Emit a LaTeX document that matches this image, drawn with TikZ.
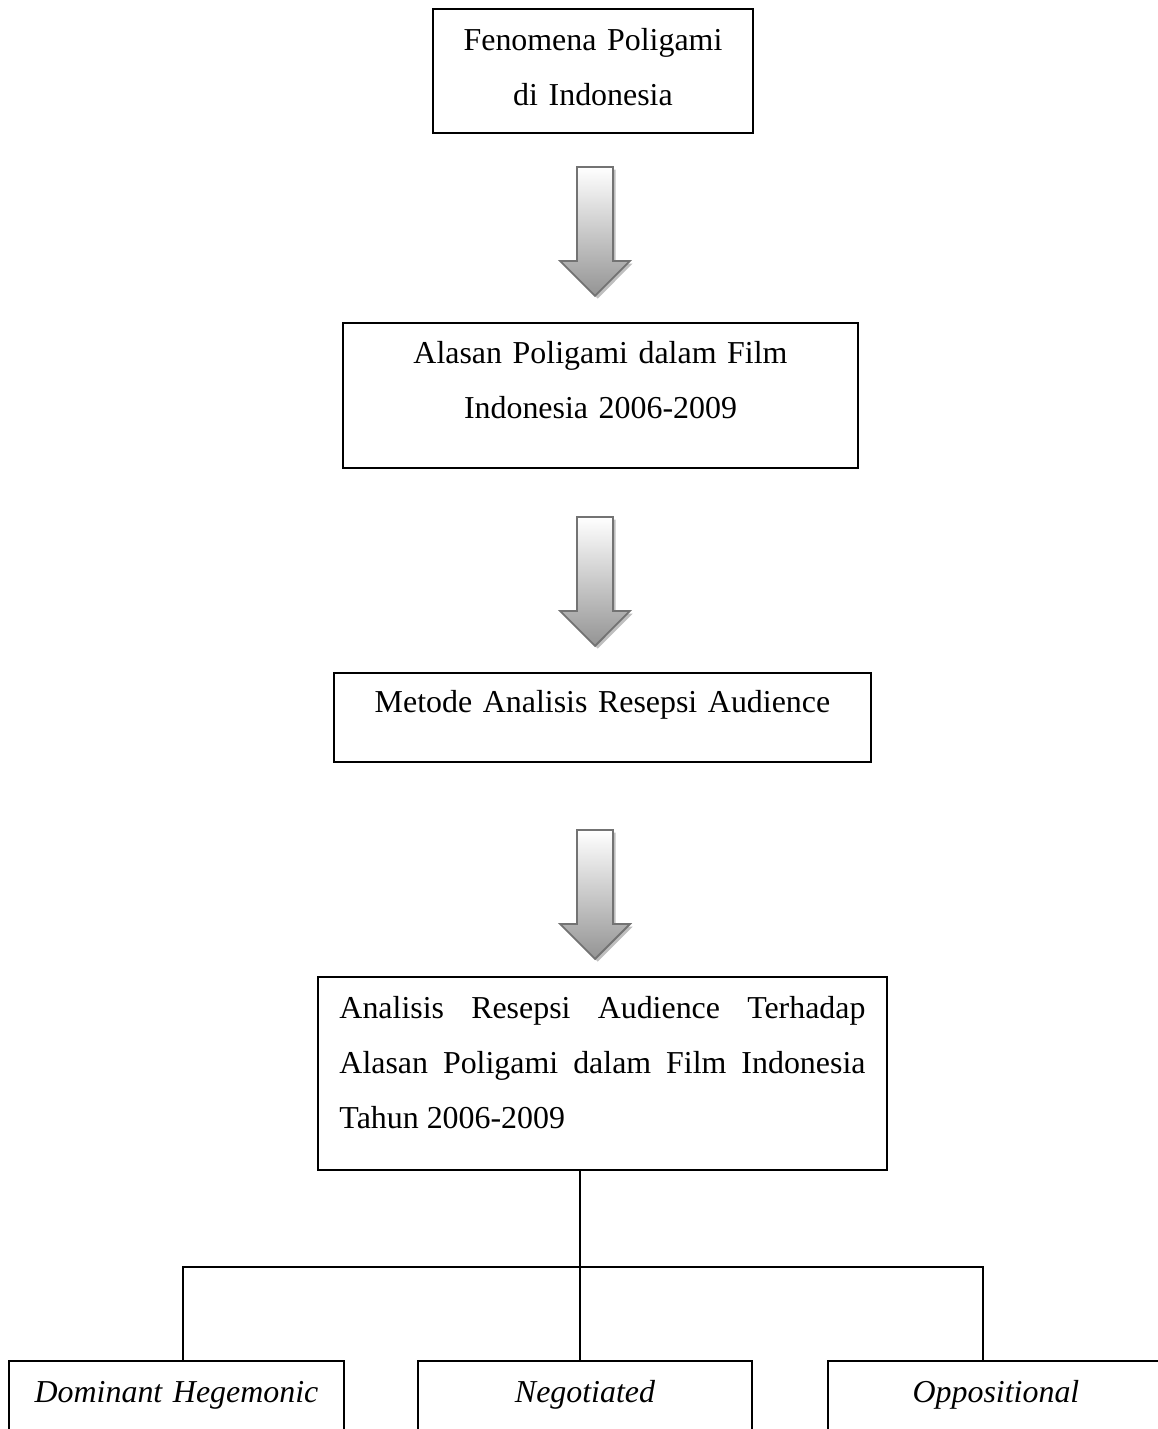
\documentclass[tikz,border=0pt]{standalone}
\usepackage{fontspec}
\setmainfont{Liberation Serif}
\usetikzlibrary{shapes.arrows,shadows}
\begin{document}
\begin{tikzpicture}[x=0.376pt,y=-0.376pt,
	kotak/.style={draw,line width=0.6pt,inner sep=0pt,anchor=base,font=\fontsize{12pt}{20.7pt}\selectfont},
	rata/.style={execute at begin node={\rightskip=0pt\relax\spaceskip=0pt\relax\xspaceskip=0pt\relax\parfillskip=0pt plus 1fil\relax}},
	miring/.style={kotak,align=center,font=\fontsize{12pt}{20.7pt}\selectfont\itshape,text height=15.42pt,text depth=37.6pt},
	panah/.style={single arrow,rotate=-90,anchor=tail,minimum height=48.5pt,inner xsep=0pt,inner ysep=6.4pt,single arrow head extend=6.4pt,draw=black!55,line width=0.7pt,top color=white,bottom color=black!42,drop shadow={shadow xshift=1pt,shadow yshift=-1pt,fill=black!25,opacity=1}}]
		\clip (0,0) rectangle (1158,1429);
		\node[kotak,align=center,text width=120.3pt,text height=15.42pt,text depth=31.21pt] (fenomena) at (593,50) {Fenomena Poligami\\di Indonesia};
		\node[kotak,align=center,text width=193.6pt,text height=15.04pt,text depth=39.48pt] (alasan) at (600.5,363) {Alasan Poligami dalam Film\\Indonesia 2006-2009};
		\node[kotak,align=center,text width=201.9pt,text height=14.66pt,text depth=18.8pt] (metode) at (602.5,712) {Metode Analisis Resepsi Audience};
		\node[kotak,rata,text width=197.8pt,inner xsep=8.08pt,text height=15.42pt,text depth=57.15pt] (analisis) at (602.5,1018) {Analisis Resepsi Audience Terhadap Alasan Poligami dalam Film Indonesia Tahun 2006-2009};
		\node[panah] (p1) at (595,166) {};
		\node[panah] (p2) at (595,516) {};
		\node[panah] (p3) at (595,829) {};
		\node[miring,text width=126pt] (dom) at (176.5,1402) {Dominant Hegemonic};
		\node[miring,text width=125.6pt] (neg) at (585,1402) {Negotiated};
		\node[miring,text width=126.3pt] (opp) at (996,1402) {Oppositional};
		\coordinate (cabang) at (580,1267);
		\coordinate (kiri) at (183,1267);
		\coordinate (kanan) at (983,1267);
		\draw[line width=0.6pt] (analisis.south -| cabang) -- (cabang) -- (neg.north -| cabang);
		\draw[line width=0.6pt] (dom.north -| kiri) |- (kanan) -- (opp.north -| kanan);
	\end{tikzpicture}
\end{document}
